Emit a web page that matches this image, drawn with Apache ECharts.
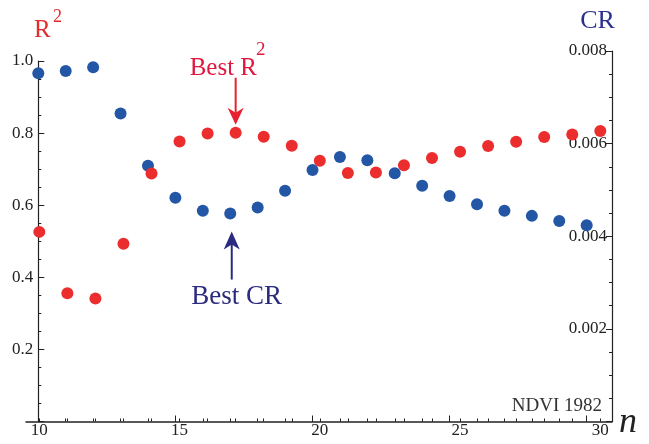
<!DOCTYPE html>
<html><head><meta charset="utf-8">
<script src="https://cdn.jsdelivr.net/npm/echarts@6/dist/echarts.min.js"></script>
<style>html,body{margin:0;padding:0;background:#fff}#c{width:649px;height:444px}</style>
</head><body><div id="c"></div>
<script>
// ---- data ----
const nValues = [10,11,12,13,14,15,16,17,18,19,20,21,22,23,24,25,26,27,28,29,30];
const r2Values = [0.526,0.356,0.341,0.493,0.688,0.777,0.799,0.801,0.790,0.765,0.723,0.689,0.691,0.711,0.731,0.748,0.764,0.776,0.789,0.796,0.806];
const crValues = [0.00752,0.00757,0.00765,0.00665,0.00552,0.00483,0.00455,0.00449,0.00462,0.00498,0.00543,0.00571,0.00564,0.00536,0.00509,0.00487,0.00469,0.00455,0.00444,0.00433,0.00424];
const xLabelTicks = [10,15,20,25,30];
const r2Ticks = [0.2,0.4,0.6,0.8,1.0];
const crTicks = [0.002,0.004,0.006,0.008];
const bestIndex = 7; // n = 17

const serif = '"Liberation Serif","DejaVu Serif",serif';
const RED = '#ec2d2d', BLUE = '#2456a6';
const chart = echarts.init(document.getElementById('c'));
const minorX = nValues.slice();

const option = {
  animation: false,
  backgroundColor: '#fff',
  grid: [
    {left: 38.3, top: 61, width: 573.7, height: 360.5},
    {left: 26, top: 51, width: 586, height: 370.5}
  ],
  xAxis: [
    // R2 plot's x axis (labels + its own small ticks)
    {gridIndex: 0, type: 'value', position: 'bottom', min: 9.964, max: 30.417,
     axisLine: {show: false},
     axisTick: {show: true, inside: true, length: 3, customValues: minorX, lineStyle: {color: '#222'}},
     axisLabel: {customValues: xLabelTicks, margin: 1, color: '#222', fontFamily: serif, fontSize: 17},
     splitLine: {show: false}},
    // CR plot's x axis (line + ticks)
    {gridIndex: 1, type: 'value', position: 'bottom', min: 9.5514, max: 30.923,
     axisLine: {lineStyle: {color: '#222', width: 1.5}},
     axisTick: {inside: true, length: 3, customValues: minorX, lineStyle: {color: '#222'}},
     axisLabel: {show: false},
     splitLine: {show: false}},
    {gridIndex: 1, type: 'value', position: 'bottom', min: 9.5514, max: 30.923,
     axisLine: {show: false},
     axisTick: {inside: true, length: 6, customValues: xLabelTicks, lineStyle: {color: '#222'}},
     axisLabel: {show: false}, splitLine: {show: false}}
  ],
  yAxis: [
    {gridIndex: 0, type: 'value', position: 'left', min: 0, max: 1, interval: 0.2,
     axisLine: {show: true, lineStyle: {color: '#222', width: 1.2}},
     axisTick: {show: true, inside: true, length: 6, lineStyle: {color: '#222'}},
     minorTick: {show: true, splitNumber: 4, length: 3, lineStyle: {color: '#222'}},
     axisLabel: {margin: 5, color: '#222', fontFamily: serif, fontSize: 17,
       formatter: v => r2Ticks.some(t => Math.abs(t - v) < 1e-9) ? v.toFixed(1) : ''},
     splitLine: {show: false}},
    {gridIndex: 1, type: 'value', position: 'right', min: 0, max: 0.008, interval: 0.002,
     axisLine: {show: true, lineStyle: {color: '#222', width: 1.2}},
     axisTick: {show: true, inside: true, length: 6, lineStyle: {color: '#222'}},
     minorTick: {show: true, splitNumber: 4, length: 3, lineStyle: {color: '#222'}},
     axisLabel: {inside: true, margin: 5, color: '#222', fontFamily: serif, fontSize: 17,
       formatter: v => crTicks.some(t => Math.abs(t - v) < 1e-12) ? v.toFixed(3) : ''},
     splitLine: {show: false}}
  ],
  series: [
    {type: 'scatter', name: 'CR', xAxisIndex: 1, yAxisIndex: 1, symbolSize: 12,
     itemStyle: {color: BLUE, opacity: 1},
     data: nValues.map((n, i) => [n, crValues[i]])},
    {type: 'scatter', name: 'R2', xAxisIndex: 0, yAxisIndex: 0, symbolSize: 12,
     itemStyle: {color: RED, opacity: 1},
     data: nValues.map((n, i) => [n, r2Values[i]])}
  ]
};
chart.setOption(option);

// annotations anchored on the best points
const pR = chart.convertToPixel({xAxisIndex: 0, yAxisIndex: 0}, [nValues[bestIndex], r2Values[bestIndex]]);
const pB = chart.convertToPixel({xAxisIndex: 1, yAxisIndex: 1}, [nValues[bestIndex], crValues[bestIndex]]);
const rx = pR[0], rTip = pR[1] - 8;
const bx = pB[0] + 1.5, bTip = pB[1] + 18;
const ARED = '#e8202f', ABLUE = '#2a2a80';

chart.setOption({
  graphic: [
    // red arrow (Best R2)
    {type: 'line', shape: {x1: rx, y1: rTip - 47, x2: rx, y2: rTip - 10}, style: {stroke: ARED, lineWidth: 2}},
    {type: 'polygon', shape: {points: [[rx, rTip], [rx - 8, rTip - 17], [rx, rTip - 12], [rx + 8, rTip - 17]]}, style: {fill: ARED}},
    // blue arrow (Best CR)
    {type: 'line', shape: {x1: bx, y1: bTip + 48, x2: bx, y2: bTip + 10}, style: {stroke: ABLUE, lineWidth: 2}},
    {type: 'polygon', shape: {points: [[bx, bTip], [bx - 8, bTip + 18], [bx, bTip + 13], [bx + 8, bTip + 18]]}, style: {fill: ABLUE}},
    // labels
    {type: 'text', style: {text: 'Best R', x: 257, y: 68, textAlign: 'right', textVerticalAlign: 'middle', font: '25px ' + serif, fill: '#e2173f'}},
    {type: 'text', style: {text: '2', x: 256, y: 50.5, textAlign: 'left', textVerticalAlign: 'middle', font: '19px ' + serif, fill: '#e2173f'}},
    {type: 'text', style: {text: 'Best CR', x: 282, y: 296.5, textAlign: 'right', textVerticalAlign: 'middle', font: '27px ' + serif, fill: '#2a2a7e'}},
    {type: 'text', style: {text: 'R', x: 34, y: 30, textAlign: 'left', textVerticalAlign: 'middle', font: '25px ' + serif, fill: '#e52b2b'}},
    {type: 'text', style: {text: '2', x: 53, y: 17.5, textAlign: 'left', textVerticalAlign: 'middle', font: '18px ' + serif, fill: '#e52b2b'}},
    {type: 'text', style: {text: 'CR', x: 597.5, y: 21.5, textAlign: 'center', textVerticalAlign: 'middle', font: '26px ' + serif, fill: '#2b2f8f'}},
    {type: 'text', style: {text: 'NDVI 1982', x: 602, y: 406, textAlign: 'right', textVerticalAlign: 'middle', font: '19px ' + serif, fill: '#333'}},
    {type: 'text', style: {text: 'n', x: 619, y: 423, textAlign: 'left', textVerticalAlign: 'middle', font: 'italic 36px ' + serif, fill: '#222'}}
  ]
});
</script>
</body></html>
